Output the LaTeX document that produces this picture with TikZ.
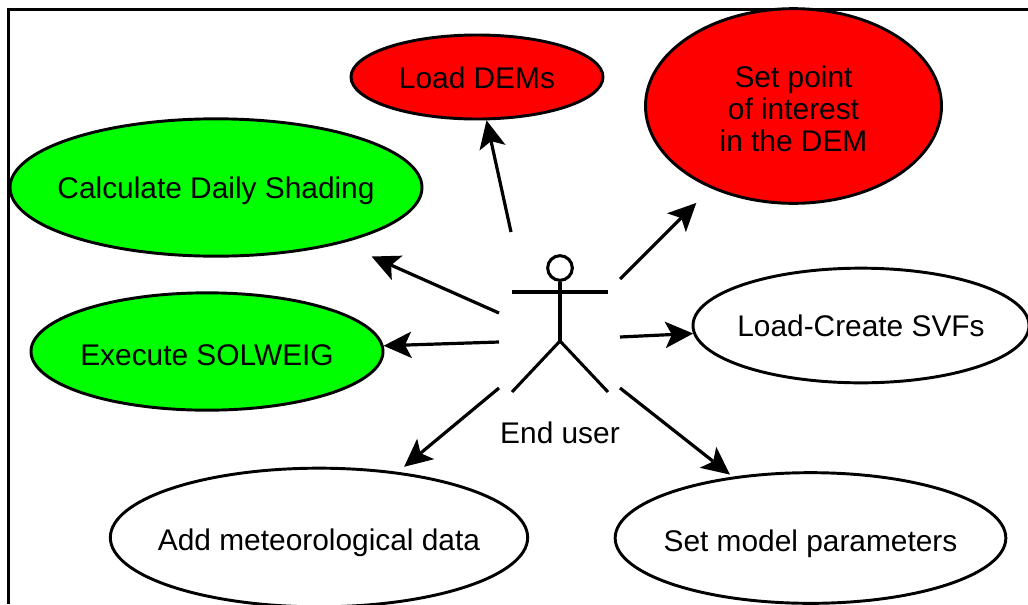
\documentclass[tikz,border=0pt]{standalone}
\usepackage{fontspec}
\setmainfont{Liberation Sans}
\usetikzlibrary{arrows.meta,shapes.geometric}
\newcommand{\ztxt}[1]{\makebox[0pt]{#1}}
\tikzset{
  usecase/.style={ellipse,draw=black,line width=2.2pt,inner sep=0pt,align=center,text=black,font=\fontsize{22.4}{24}\selectfont,text height=16pt,text depth=0pt},
  conn/.style={line width=2.4pt,draw=black,-{Stealth[length=21pt,width=20pt,inset=5pt,line width=0pt]}},
  limb/.style={line width=2.3pt,draw=black},
  frameline/.style={line width=2.4pt,draw=black}
}
\begin{document}
\begin{tikzpicture}[x=0.75pt,y=-0.75pt]
\useasboundingbox (0,0) rectangle (1028,604);
\fill[white] (0,0) rectangle (1028,604);
\coordinate (fTL) at (8.5,9.5);
\coordinate (fTR) at (1028,9.5);
\coordinate (fBL) at (8.5,604);
\draw[frameline] (fBL) -- (fTL) -- (fTR);

\node[usecase,fill=red,minimum width=189pt,minimum height=63pt,text height=17.5pt] (dem) at (477,77) {\ztxt{Load DEMs}};
\node[usecase,fill=red,minimum width=222pt,minimum height=146pt,text height=73pt,text depth=5pt] (setp) at (793.5,106) {\ztxt{Set point}\\\ztxt{of interest}\\\ztxt{in the DEM}};
\node[usecase,fill=green,minimum width=309pt,minimum height=103pt] (calc) at (216,187.5) {\ztxt{Calculate Daily Shading}};
\node[usecase,fill=green,minimum width=264pt,minimum height=88pt,text height=20.5pt] (exec) at (207,351.5) {\ztxt{Execute SOLWEIG}};
\node[usecase,fill=white,minimum width=252pt,minimum height=86pt] (svf) at (861,325.5) {\ztxt{Load-Create SVFs}};
\node[usecase,fill=white,minimum width=313pt,minimum height=104pt,text height=19pt] (meteo) at (319,537.5) {\ztxt{Add meteorological data}};
\node[usecase,fill=white,minimum width=293pt,minimum height=98pt,text height=20.5pt] (model) at (810.5,538) {\ztxt{Set model parameters}};

\node[circle,draw=black,line width=2.3pt,fill=white,minimum size=18.5pt,inner sep=0pt] (head) at (560,268) {};
\coordinate (armL) at (512,292);
\coordinate (armR) at (608,292);
\coordinate (hip) at (560,341);
\coordinate (legL) at (512,392);
\coordinate (legR) at (608,392);
\draw[limb] (armL) -- (armR);
\draw[limb] (head) -- (hip);
\draw[limb] (legL) -- (hip) -- (legR);
\node[text=black,font=\fontsize{22.4}{24}\selectfont,inner sep=0pt] (enduser) at (560,433) {End user};

\coordinate (s1) at (511,232);
\coordinate (s2) at (620,279);
\coordinate (s3) at (499,313);
\coordinate (s4) at (499,342);
\coordinate (s5) at (620,337);
\coordinate (s6) at (499,388);
\coordinate (s7) at (620,388);
\draw[conn] (s1) -- (dem);
\draw[conn,shorten >=15.5pt] (s2) -- (setp);
\draw[conn,shorten >=24.5pt] (s3) -- (calc);
\draw[conn] (s4) -- (exec);
\draw[conn] (s5) -- (svf);
\draw[conn,shorten >=6pt] (s6) -- (meteo);
\draw[conn,shorten >=2.5pt] (s7) -- (model);
\end{tikzpicture}
\end{document}
